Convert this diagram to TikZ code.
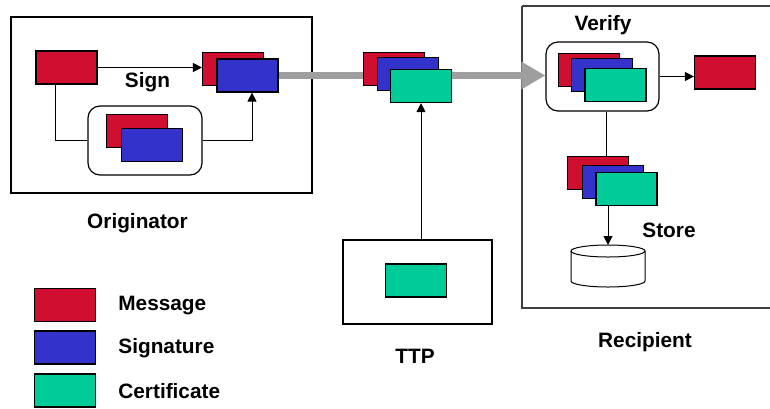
\documentclass[tikz,border=0pt]{standalone}
\usepackage{fontspec}
\setmainfont{Liberation Sans}
\usetikzlibrary{arrows.meta,positioning,calc}
\definecolor{msgred}{HTML}{D00F30}
\definecolor{sigblue}{HTML}{3333CC}
\definecolor{certgreen}{HTML}{00CC99}
\tikzset{
  card/.style  ={draw,minimum width=30.5pt,minimum height=16.5pt,inner sep=0pt,line width=0.6pt},
  msg/.style   ={card,fill=msgred},
  sig/.style   ={card,fill=sigblue},
  cert/.style  ={card,fill=certgreen},
  wrap/.style  ={draw,rounded corners=6pt,line width=0.6pt,fill=white,inner sep=0pt},
  frame/.style ={draw,line width=0.7pt},
  link/.style  ={line width=0.5pt},
  flow/.style  ={link,-{Triangle[length=4.5pt,width=4.5pt]}},
  pass/.style  ={line width=3.5pt,black!38,-{Triangle[length=12pt,width=13pt]}},
  lbl/.style   ={font=\fontsize{10.4}{12}\selectfont\bfseries,inner sep=0pt},
}

\begin{document}
\begin{tikzpicture}[x=0.5pt,y=-0.5pt]
  \useasboundingbox (0,0) rectangle (770,408);
  % originator side
  \draw[frame] (11,17) rectangle (312,193);
  \node[msg] (srcMsg) at (66.5,67.5) {};
  \node[msg] (sigR) at (233,69) {};
  \node[sig] (sigB) at (247.5,75.5) {};
  \node[wrap,minimum width=57pt,minimum height=34.5pt] (keep) at (145,140.5) {};
  \node[msg] (keepR) at (137,131) {};
  \node[sig] (keepB) at (152,145) {};
  \draw[flow] (srcMsg.east) -- (srcMsg.east -| sigR.west);
  \node[lbl,anchor=base] (signTxt) at (147.5,87) {Sign};
  \draw[link] ($(srcMsg.south west)!0.32!(srcMsg.south east)$) |- (keep.west);
  \draw[flow] (keep.east) -| ($(sigB.south)+(4.5,0)$);
  \node[lbl,anchor=base] (origTxt) at (137.5,228) {Originator};
  % recipient side
  \draw[frame,black!75] (522,6) -- (775,6) (522,6) -- (522,308) -- (775,308);
  \node[wrap,minimum width=56.5pt,minimum height=34.5pt] (check) at (602.5,76.5) {};
  \node[lbl,anchor=base] (verifyTxt) at (603,30) {Verify};
  % signed message in transit
  \draw[pass] (sigB.east) -- (sigB.east -| check.west);
  \node[msg] (midR) at (394,69) {};
  \node[sig] (midB) at (408,74) {};
  \node[cert] (midC) at (421,86) {};
  % trusted third party
  \node[frame,minimum width=74.5pt,minimum height=42pt] (ttp) at (417.5,282) {};
  \node[cert] (ttpC) at (416,280.5) {};
  \draw[flow] (midC.south |- ttp.north) -- (midC.south);
  \node[lbl,anchor=base] (ttpTxt) at (415,363) {TTP};
  % verification and storage
  \node[msg] (chkR) at (589,70) {};
  \node[sig] (chkB) at (602,75) {};
  \node[cert] (chkC) at (615.5,85) {};
  \node[msg] (plain) at (725,72.5) {};
  \draw[flow] (check.east) -- (check.east -| plain.west);
  \node[msg] (stR) at (598,173) {};
  \node[sig] (stB) at (613,182) {};
  \node[cert] (stC) at (626.5,189) {};
  \coordinate (vdown) at ($(check.south)+(3.5,0)$);
  \draw[link] (vdown) -- (vdown |- stR.north);
  \draw[link,fill=white] (571,251) -- (571,281)
        arc[start angle=180,end angle=360,x radius=18.5pt,y radius=3pt] -- (645,251)
        arc[start angle=0,end angle=180,x radius=18.5pt,y radius=3pt] -- cycle;
  \draw[link] (571,251) arc[start angle=180,end angle=360,x radius=18.5pt,y radius=3pt];
  \coordinate (db) at (608,245);
  \draw[flow] (db |- stC.south) -- (db);
  \node[lbl,anchor=base] (storeTxt) at (669,237) {Store};
  \node[lbl,anchor=base] (recipTxt) at (645,347) {Recipient};
  % legend
  \node[msg] (keyM) at (65,305) {};
  \node[sig] (keyS) at (65,347.5) {};
  \node[cert] (keyC) at (65,390.5) {};
  \node[lbl,anchor=base west] (keyMTxt) at (118,310) {Message};
  \node[lbl,anchor=base west] (keySTxt) at (118,353) {Signature};
  \node[lbl,anchor=base west] (keyCTxt) at (118,398) {Certificate};
\end{tikzpicture}
\end{document}
